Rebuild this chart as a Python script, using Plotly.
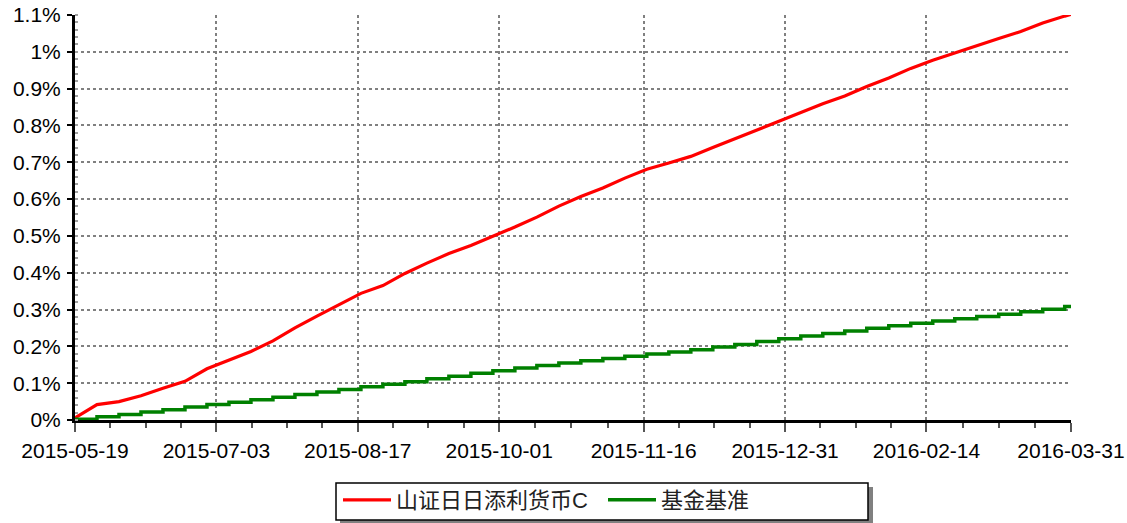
import plotly.graph_objects as go
import pandas as pd

dates = ["2015-05-19","2015-05-26","2015-06-02","2015-06-09","2015-06-16","2015-06-23","2015-06-30",
         "2015-07-07","2015-07-14","2015-07-21","2015-07-28","2015-08-04","2015-08-11","2015-08-18",
         "2015-08-25","2015-09-01","2015-09-08","2015-09-15","2015-09-22","2015-09-29","2015-10-06",
         "2015-10-13","2015-10-20","2015-10-27","2015-11-03","2015-11-10","2015-11-17","2015-11-24",
         "2015-12-01","2015-12-08","2015-12-15","2015-12-22","2015-12-29","2016-01-05","2016-01-12",
         "2016-01-19","2016-01-26","2016-02-02","2016-02-09","2016-02-16","2016-02-23","2016-03-01",
         "2016-03-08","2016-03-15","2016-03-22","2016-03-29","2016-03-31"]

fund_c = [0.006,0.042,0.050,0.066,0.086,0.105,0.139,
          0.162,0.186,0.215,0.250,0.282,0.313,0.344,
          0.365,0.398,0.426,0.452,0.474,0.498,0.524,
          0.551,0.581,0.607,0.630,0.657,0.681,0.698,
          0.716,0.740,0.764,0.789,0.812,0.836,0.859,
          0.880,0.906,0.929,0.955,0.977,0.997,1.018,
          1.036,1.055,1.078,1.097,1.102]

benchmark = [0.002,0.009,0.015,0.022,0.028,0.035,0.042,
             0.048,0.055,0.062,0.069,0.076,0.083,0.090,
             0.097,0.104,0.112,0.119,0.127,0.134,0.141,
             0.148,0.155,0.161,0.167,0.173,0.179,0.185,
             0.191,0.198,0.205,0.213,0.221,0.228,0.235,
             0.242,0.249,0.256,0.263,0.269,0.275,0.281,
             0.287,0.294,0.301,0.308,0.311]

x_ticks = ["2015-05-19","2015-07-03","2015-08-17","2015-10-01","2015-11-16",
           "2015-12-31","2016-02-14","2016-03-31"]
y_ticks = [0, 0.1, 0.2, 0.3, 0.4, 0.5, 0.6, 0.7, 0.8, 0.9, 1.0, 1.1]
y_labels = ["0%","0.1%","0.2%","0.3%","0.4%","0.5%","0.6%","0.7%","0.8%","0.9%","1%","1.1%"]
names = ["山证日日添利货币C", "基金基准"]

# minor x ticks: three between each pair of major ticks
mt = pd.to_datetime(x_ticks)
minor_x = []
for a, b in zip(mt[:-1], mt[1:]):
    step = (b - a) / 4
    for k in range(1, 4):
        minor_x.append((a + step * k).strftime("%Y-%m-%d %H:%M"))

font = "Liberation Sans, Arial, Noto Sans CJK SC, sans-serif"
lfont = "Liberation Sans, Noto Sans CJK SC, sans-serif"

fig = go.Figure()
fig.add_trace(go.Scatter(x=dates, y=fund_c, mode="lines", name=names[0],
                         line=dict(color="#FF0000", width=3.2)))
fig.add_trace(go.Scatter(x=dates, y=benchmark, mode="lines", name=names[1],
                         line=dict(color="#008000", width=3.5, shape="hv")))

W, H = 1127, 523
L, R, T, B = 75, 56, 15, 103
pw, ph = W - L - R, H - T - B
def px(xs): return (xs - L) / pw
def py(ys): return (H - B - ys) / ph

fig.update_layout(
    width=W, height=H,
    margin=dict(l=L, r=R, t=T, b=B, autoexpand=False),
    plot_bgcolor="white", paper_bgcolor="white",
    font=dict(family=font, size=21, color="black"),
    showlegend=True,
    legend=dict(orientation="h", x=px(338), y=py(479), xanchor="left", yanchor="top",
                bgcolor="rgba(0,0,0,0)", borderwidth=0,
                font=dict(size=22, family=lfont, color="#222222"),
                entrywidth=202, entrywidthmode="pixels",
                itemwidth=48, tracegroupgap=0),
    shapes=[
        # legend shadow
        dict(type="rect", xref="paper", yref="paper",
             x0=px(340), x1=px(873), y0=py(523), y1=py(487),
             fillcolor="#808080", line=dict(width=0), layer="below"),
        # legend frame
        dict(type="rect", xref="paper", yref="paper",
             x0=px(336), x1=px(868), y0=py(520), y1=py(483),
             fillcolor="white", line=dict(color="black", width=1.5), layer="below"),
    ],
)

fig.update_xaxes(
    type="date", range=["2015-05-19", "2016-03-31"], automargin=False,
    tickmode="array", tickvals=x_ticks, ticktext=x_ticks,
    ticklabeloverflow="allow",
    showline=True, linecolor="black", linewidth=3,
    ticks="outside", ticklen=9, tickwidth=1.5, tickcolor="#555555",
    ticklabelstandoff=1,
    showgrid=True, gridcolor="#808080", gridwidth=1.5, griddash="dot",
    minor=dict(tickmode="array", tickvals=minor_x, ticks="outside", ticklen=5,
               tickwidth=1.5, tickcolor="#555555", showgrid=False),
    tickfont=dict(size=21, family=font), zeroline=False,
)
fig.update_yaxes(
    range=[0, 1.1], tickmode="array", tickvals=y_ticks, ticktext=y_labels, automargin=False,
    ticklabeloverflow="allow",
    showline=True, linecolor="black", linewidth=3,
    ticks="outside", ticklen=5, tickwidth=1.5, tickcolor="black",
    ticklabelstandoff=2,
    showgrid=True, gridcolor="#808080", gridwidth=1.5, griddash="dot",
    minor=dict(dtick=0.02, ticks="inside", ticklen=3, tickwidth=1.5,
               tickcolor="#a0a0a0", showgrid=False),
    tickfont=dict(size=21, family=font), zeroline=False,
)

fig.write_html("out.html", config={"displayModeBar": False},
               post_script="document.body.style.margin='0';document.body.style.overflow='hidden';")
